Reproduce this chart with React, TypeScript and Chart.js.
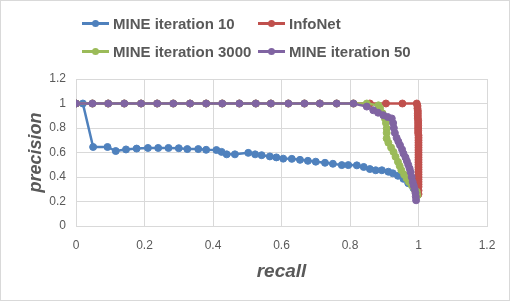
import React, { useEffect, useRef } from "react";
import { Chart, registerables } from "chart.js";

Chart.register(...registerables);

// ---- data ----
const seriesNames = ["MINE iteration 10", "InfoNet", "MINE iteration 3000", "MINE iteration 50"];
const seriesColors = ["#4F81BD", "#C0504D", "#9BBB59", "#8064A2"];

const xTickLabels = ["0", "0.2", "0.4", "0.6", "0.8", "1", "1.2"];
const yTickLabels = ["0", "0.2", "0.4", "0.6", "0.8", "1", "1.2"];

const mine10Recall = [0, 0.02, 0.05, 0.092, 0.116, 0.146, 0.177, 0.21, 0.24, 0.27, 0.3, 0.325, 0.357, 0.38, 0.41, 0.425, 0.44, 0.464, 0.503, 0.523, 0.542, 0.566, 0.585, 0.605, 0.63, 0.654, 0.677, 0.7, 0.727, 0.75, 0.776, 0.795, 0.82, 0.84, 0.858, 0.875, 0.893, 0.912, 0.925, 0.94, 0.956, 0.97, 0.985, 0.995];
const mine10Precision = [1, 1, 0.645, 0.645, 0.612, 0.625, 0.632, 0.637, 0.637, 0.637, 0.635, 0.628, 0.628, 0.622, 0.62, 0.605, 0.585, 0.585, 0.597, 0.585, 0.578, 0.568, 0.56, 0.55, 0.548, 0.54, 0.532, 0.525, 0.516, 0.508, 0.497, 0.497, 0.495, 0.482, 0.465, 0.455, 0.455, 0.443, 0.43, 0.41, 0.385, 0.35, 0.31, 0.27];

const infoNetRecall = [0, 0.048, 0.094, 0.141, 0.19, 0.237, 0.284, 0.333, 0.38, 0.427, 0.477, 0.525, 0.569, 0.62, 0.667, 0.712, 0.761, 0.81, 0.858, 0.905, 0.953, 0.995, 0.997, 0.997, 0.998, 0.998, 0.998, 0.998, 0.999, 0.999, 0.999, 0.999, 0.999, 0.999, 1, 1, 1, 1, 1, 1, 1, 1, 1, 1, 1, 1, 1, 1, 1, 1, 1, 1, 1, 1, 1, 1, 1, 1];
const infoNetPrecision = [1, 1, 1, 1, 1, 1, 1, 1, 1, 1, 1, 1, 1, 1, 1, 1, 1, 1, 1, 1, 1, 1, 0.98, 0.96, 0.94, 0.92, 0.9, 0.88, 0.86, 0.84, 0.82, 0.8, 0.78, 0.76, 0.74, 0.72, 0.7, 0.68, 0.66, 0.64, 0.62, 0.6, 0.58, 0.56, 0.54, 0.52, 0.5, 0.48, 0.46, 0.44, 0.42, 0.4, 0.38, 0.36, 0.34, 0.32, 0.29, 0.26];

const mine3000Recall = [0, 0.048, 0.094, 0.141, 0.19, 0.237, 0.284, 0.333, 0.38, 0.427, 0.477, 0.525, 0.569, 0.62, 0.667, 0.712, 0.761, 0.81, 0.849, 0.883, 0.888, 0.895, 0.902, 0.905, 0.907, 0.907, 0.907, 0.912, 0.92, 0.927, 0.933, 0.94, 0.945, 0.95, 0.958, 0.965, 0.972, 0.98, 0.988, 0.995, 0.997];
const mine3000Precision = [1, 1, 1, 1, 1, 1, 1, 1, 1, 1, 1, 1, 1, 1, 1, 1, 1, 1, 1, 0.985, 0.96, 0.92, 0.878, 0.84, 0.796, 0.76, 0.715, 0.68, 0.64, 0.605, 0.565, 0.524, 0.49, 0.456, 0.42, 0.39, 0.36, 0.334, 0.3, 0.28, 0.25];

const mine50Recall = [0, 0.048, 0.094, 0.141, 0.19, 0.237, 0.284, 0.333, 0.38, 0.427, 0.477, 0.525, 0.569, 0.62, 0.667, 0.712, 0.761, 0.81, 0.849, 0.868, 0.882, 0.897, 0.91, 0.922, 0.926, 0.928, 0.931, 0.936, 0.941, 0.946, 0.952, 0.956, 0.962, 0.966, 0.97, 0.974, 0.977, 0.98, 0.983, 0.986, 0.989, 0.991, 0.992, 0.993];
const mine50Precision = [1, 1, 1, 1, 1, 1, 1, 1, 1, 1, 1, 1, 1, 1, 1, 1, 1, 1, 0.975, 0.945, 0.925, 0.905, 0.89, 0.878, 0.84, 0.8, 0.76, 0.72, 0.69, 0.66, 0.625, 0.592, 0.56, 0.53, 0.5, 0.47, 0.44, 0.4, 0.36, 0.33, 0.3, 0.27, 0.24, 0.21];

const allRecall = [mine10Recall, infoNetRecall, mine3000Recall, mine50Recall];
const allPrecision = [mine10Precision, infoNetPrecision, mine3000Precision, mine50Precision];

const FONT = "'Liberation Sans', Arial, sans-serif";
const TEXT = "#595959";
const GRID = "#d9d9d9";

export default function App() {
  const ref = useRef<HTMLCanvasElement | null>(null);

  useEffect(() => {
    if (!ref.current) return;
    const datasets = seriesNames.map((name, i) => ({
      label: name,
      data: allRecall[i].map((x, j) => ({ x, y: allPrecision[i][j] })),
      borderColor: seriesColors[i],
      backgroundColor: seriesColors[i],
      pointBackgroundColor: seriesColors[i],
      pointBorderColor: seriesColors[i],
      borderWidth: 2.5,
      pointRadius: 3.5,
      pointBorderWidth: 1,
      showLine: true,
      tension: 0,
      order: 4 - i,
    }));

    const chart = new Chart(ref.current, {
      type: "scatter",
      data: { datasets },
      options: {
        animation: false,
        responsive: false,
        maintainAspectRatio: false,
        layout: { padding: { left: 0, top: 79, right: 24, bottom: 0 } },
        plugins: { legend: { display: false }, tooltip: { enabled: false } },
        scales: {
          x: {
            type: "linear",
            min: 0,
            max: 1.2,
            ticks: {
              stepSize: 0.2,
              color: TEXT,
              font: { family: FONT, size: 12 },
              padding: 12,
              callback: (_v: any, idx: number) => xTickLabels[idx],
            },
            grid: { color: GRID, lineWidth: 1, drawTicks: false },
            border: { color: GRID },
            title: {
              display: true,
              text: "recall",
              color: TEXT,
              font: { family: FONT, size: 19, weight: "bold", style: "italic" },
              padding: { top: 0, bottom: 19 },
            },
            afterFit: (s: any) => {
              s.height = 76;
            },
          },
          y: {
            type: "linear",
            min: 0,
            max: 1.2,
            ticks: {
              stepSize: 0.2,
              color: TEXT,
              font: { family: FONT, size: 12 },
              padding: 10,
              callback: (_v: any, idx: number) => yTickLabels[idx],
            },
            grid: { color: GRID, lineWidth: 1, drawTicks: false },
            border: { color: GRID },
            title: {
              display: true,
              text: "precision",
              color: TEXT,
              font: { family: FONT, size: 18, weight: "bold", style: "italic" },
              padding: { top: 25, bottom: 0 },
            },
            afterFit: (s: any) => {
              s.width = 76;
            },
          },
        },
      },
    });
    return () => chart.destroy();
  }, []);

  const legendPos = [
    { left: 82, top: 23 },
    { left: 258, top: 23 },
    { left: 82, top: 51 },
    { left: 258, top: 51 },
  ];

  return (
    <div
      style={{
        position: "absolute",
        left: 0,
        top: 0,
        width: 511,
        height: 302,
        background: "#ffffff",
        overflow: "hidden",
      }}
    >
      <canvas ref={ref} width={511} height={302} style={{ position: "absolute", left: 0, top: 0 }} />
      {seriesNames.map((name, i) => (
        <div
          key={name}
          style={{
            position: "absolute",
            left: legendPos[i].left,
            top: legendPos[i].top - 10,
            height: 20,
            display: "flex",
            alignItems: "center",
            fontFamily: FONT,
            fontWeight: "bold",
            fontSize: 15,
            color: TEXT,
            whiteSpace: "nowrap",
          }}
        >
          <div style={{ position: "relative", width: 27, height: 20, marginRight: 4 }}>
            <div
              style={{
                position: "absolute",
                left: 0,
                top: 9,
                width: 27,
                height: 2.5,
                background: seriesColors[i],
              }}
            />
            <div
              style={{
                position: "absolute",
                left: 10,
                top: 6.5,
                width: 7,
                height: 7,
                borderRadius: "50%",
                background: seriesColors[i],
              }}
            />
          </div>
          <span>{name}</span>
        </div>
      ))}
      <div
        style={{
          position: "absolute",
          left: 0,
          top: 0,
          width: 508,
          height: 299,
          border: "1px solid #d9d9d9",
          pointerEvents: "none",
        }}
      />
    </div>
  );
}
